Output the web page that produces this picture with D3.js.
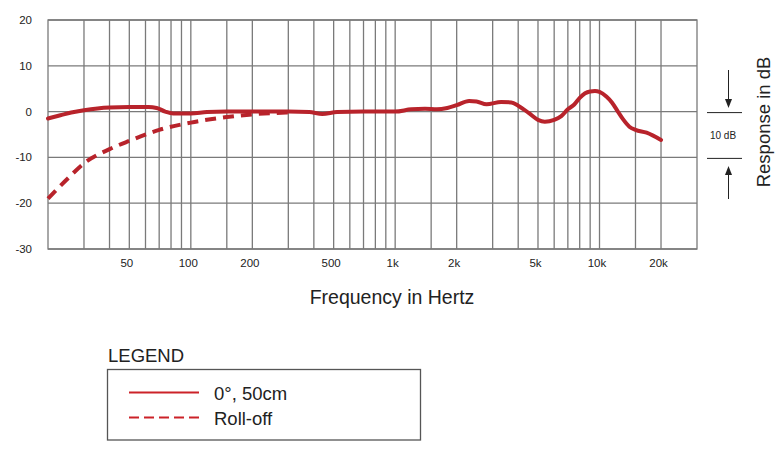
<!DOCTYPE html>
<html>
<head>
<meta charset="utf-8">
<script src="https://cdn.jsdelivr.net/npm/d3@7"></script>
<style>
  body { margin: 0; background: #fff; }
  svg { font-family: "Liberation Sans", Arial, sans-serif; }
</style>
</head>
<body>
<div id="chart"></div>
<script>
// frequency response, 0 deg at 50cm
var respFreq = [20, 23, 26, 30, 40, 50, 62, 68, 75, 82, 100, 120, 150, 300, 380, 440, 520, 700, 1000, 1200, 1400, 1600, 1800, 2000, 2300, 2500, 2800, 3300, 3700, 4000, 4500, 5000, 5400, 6000, 6500, 7000, 7500, 8000, 8500, 9000, 9500, 10000, 10800, 11500, 12300, 13000, 14000, 15000, 17000, 20000];
var respDb   = [-1.5, -0.8, -0.2, 0.3, 0.9, 1.0, 1.0, 0.8, 0.0, -0.4, -0.4, -0.1, 0.0, 0.0, -0.1, -0.5, -0.1, 0.0, 0.0, 0.5, 0.6, 0.5, 0.8, 1.4, 2.3, 2.2, 1.6, 2.1, 2.0, 1.3, -0.3, -1.8, -2.2, -1.8, -1.0, 0.5, 1.5, 3.0, 4.0, 4.4, 4.5, 4.3, 3.3, 2.0, 0.0, -1.6, -3.3, -4.0, -4.6, -6.2];

// low cut roll-off
var rollFreq = [20, 25, 30, 40, 50, 70, 100, 150, 200, 300];
var rollDb   = [-19, -14.6, -11.3, -8.2, -6.4, -4.0, -2.4, -1.2, -0.6, -0.2];

var gridFreq = [30, 40, 50, 60, 70, 80, 90, 100, 150, 200, 300, 400, 500, 600, 700, 800, 900, 1000, 1500, 2000, 3000, 4000, 5000, 6000, 7000, 8000, 9000, 10000, 15000, 20000];
var tickFreq = [50, 100, 200, 500, 1000, 2000, 5000, 10000, 20000];
var tickText = ["50", "100", "200", "500", "1k", "2k", "5k", "10k", "20k"];
var dbTicks = [20, 10, 0, -10, -20, -30];

var legendNames = ["0°, 50cm", "Roll-off"];

var W = 782, H = 457;
var lineColor = "#b8232b";
var gridColor = "#7a7a7a";

var svg = d3.select("#chart").append("svg")
    .attr("width", W)
    .attr("height", H);

var x = d3.scaleLog()
    .domain([20, 30000])
    .range([48, 697]);

var y = d3.scaleLinear()
    .domain([-30, 20])
    .range([249, 20]);

// grid
var grid = svg.append("g");

grid.selectAll(".vline")
    .data(gridFreq)
    .enter().append("line")
    .attr("x1", function(d) { return x(d); })
    .attr("x2", function(d) { return x(d); })
    .attr("y1", y(20))
    .attr("y2", y(-30))
    .attr("stroke", gridColor)
    .attr("stroke-width", 1.3);

grid.selectAll(".hline")
    .data(dbTicks)
    .enter().append("line")
    .attr("x1", x(20))
    .attr("x2", x(30000))
    .attr("y1", function(d) { return y(d); })
    .attr("y2", function(d) { return y(d); })
    .attr("stroke", gridColor)
    .attr("stroke-width", 1.3);

grid.append("rect")
    .attr("x", x(20))
    .attr("y", y(20))
    .attr("width", x(30000) - x(20))
    .attr("height", y(-30) - y(20))
    .attr("fill", "none")
    .attr("stroke", gridColor)
    .attr("stroke-width", 1.3);

// y labels
svg.selectAll(".ylab")
    .data(dbTicks)
    .enter().append("text")
    .attr("x", 32)
    .attr("y", function(d) { return y(d) + 4; })
    .attr("text-anchor", "end")
    .attr("font-size", 11.5)
    .attr("fill", "#222")
    .text(function(d) { return d; });

// x labels
svg.selectAll(".xlab")
    .data(tickFreq)
    .enter().append("text")
    .attr("x", function(d) { return x(d) - 2.5; })
    .attr("y", 267)
    .attr("text-anchor", "middle")
    .attr("font-size", 11.5)
    .attr("fill", "#222")
    .text(function(d, i) { return tickText[i]; });

svg.append("text")
    .attr("x", 392)
    .attr("y", 303.5)
    .attr("text-anchor", "middle")
    .attr("font-size", 19.5)
    .attr("fill", "#222")
    .text("Frequency in Hertz");

svg.append("text")
    .attr("transform", "translate(770," + 122 + ") rotate(-90)")
    .attr("text-anchor", "middle")
    .attr("font-size", 18.5)
    .attr("fill", "#222")
    .text("Response in dB");

// 10 dB scale marker
var scaleG = svg.append("g").attr("stroke", "#222").attr("stroke-width", 1);
[0, -10].forEach(function(d) {
    scaleG.append("line")
        .attr("x1", 707).attr("x2", 742)
        .attr("y1", y(d) + 1).attr("y2", y(d) + 1);
});
scaleG.append("line").attr("x1", 728.5).attr("x2", 728.5).attr("y1", 70).attr("y2", 100);
scaleG.append("line").attr("x1", 728.5).attr("x2", 728.5).attr("y1", 173).attr("y2", 199);
svg.append("path")
    .attr("d", "M725,99 L732,99 L728.5,108 Z")
    .attr("fill", "#222");
svg.append("path")
    .attr("d", "M725,175 L732,175 L728.5,166 Z")
    .attr("fill", "#222");
svg.append("text")
    .attr("x", 723)
    .attr("y", 139)
    .attr("text-anchor", "middle")
    .attr("font-size", 10)
    .attr("fill", "#222")
    .text("10 dB");

// curves
var line = d3.line()
    .x(function(d) { return x(d[0]); })
    .y(function(d) { return y(d[1]); })
    .curve(d3.curveMonotoneX);

svg.append("path")
    .datum(rollFreq.map(function(f, i) { return [f, rollDb[i]]; }))
    .attr("d", line)
    .attr("fill", "none")
    .attr("stroke", lineColor)
    .attr("stroke-width", 4)
    .attr("stroke-dasharray", "11,7");

svg.append("path")
    .datum(respFreq.map(function(f, i) { return [f, respDb[i]]; }))
    .attr("d", line)
    .attr("fill", "none")
    .attr("stroke", lineColor)
    .attr("stroke-width", 4)
    .attr("stroke-linejoin", "round")
    .attr("stroke-linecap", "round");

// legend
svg.append("text")
    .attr("x", 108)
    .attr("y", 361.5)
    .attr("font-size", 18.5)
    .attr("fill", "#222")
    .text("LEGEND");

svg.append("rect")
    .attr("x", 107.5)
    .attr("y", 369.5)
    .attr("width", 313)
    .attr("height", 70.5)
    .attr("fill", "none")
    .attr("stroke", "#555")
    .attr("stroke-width", 1.3);

var leg = svg.selectAll(".leg")
    .data(legendNames)
    .enter().append("g")
    .attr("transform", function(d, i) { return "translate(0," + (392.5 + i * 25) + ")"; });

leg.append("line")
    .attr("x1", 129)
    .attr("x2", 199)
    .attr("y1", 0)
    .attr("y2", 0)
    .attr("stroke", "#cc2229")
    .attr("stroke-width", 2)
    .attr("stroke-dasharray", function(d, i) { return i ? "10,5" : null; });

leg.append("text")
    .attr("x", 214)
    .attr("y", 7.5)
    .attr("font-size", 18.5)
    .attr("fill", "#222")
    .text(function(d) { return d; });
</script>
</body>
</html>
